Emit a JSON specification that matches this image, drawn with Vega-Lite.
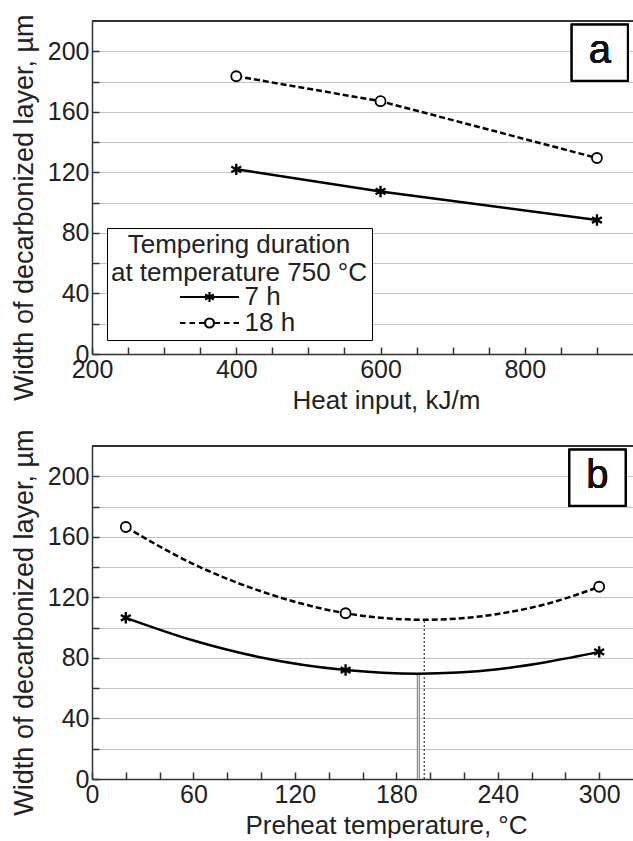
{
  "$schema": "https://vega.github.io/schema/vega-lite/v6.json",
  "background": "white",
  "padding": {"left": 9, "top": 13, "right": 0, "bottom": 0},
  "config": {
    "font": "Liberation Sans",
    "view": {"stroke": null},
    "axis": {
      "labelFont": "Liberation Sans",
      "titleFont": "Liberation Sans",
      "labelFontSize": 25,
      "titleFontSize": 26,
      "titleFontWeight": "normal",
      "labelColor": "#222",
      "titleColor": "#222",
      "domainColor": "#333",
      "domainWidth": 1.5,
      "tickColor": "#333",
      "tickWidth": 1.5,
      "tickSize": -7,
      "labelPadding": 10,
      "labelFlush": false,
      "labelOverlap": false,
      "gridColor": "#888",
      "gridDash": [1, 1],
      "gridWidth": 1
    },
    "axisY": {"titleFontSize": 27}
  },
  "datasets": {
    "a_points": [
      {"heat": 400, "width": 122, "series": "7 h"},
      {"heat": 600, "width": 107.4, "series": "7 h"},
      {"heat": 900, "width": 88.5, "series": "7 h"},
      {"heat": 400, "width": 183.5, "series": "18 h"},
      {"heat": 600, "width": 167, "series": "18 h"},
      {"heat": 900, "width": 129.5, "series": "18 h"}
    ],
    "b_points": [
      {"temp": 20, "width": 106.5, "series": "7 h"},
      {"temp": 150, "width": 72, "series": "7 h"},
      {"temp": 300, "width": 84, "series": "7 h"},
      {"temp": 20, "width": 166.5, "series": "18 h"},
      {"temp": 150, "width": 109.5, "series": "18 h"},
      {"temp": 300, "width": 127, "series": "18 h"}
    ],
    "b_curve": [
      {"temp": 20, "width": 106.5, "series": "7 h"},
      {"temp": 60, "width": 91.5, "series": "7 h"},
      {"temp": 100, "width": 80.3, "series": "7 h"},
      {"temp": 150, "width": 72, "series": "7 h"},
      {"temp": 193, "width": 69.6, "series": "7 h"},
      {"temp": 240, "width": 72.5, "series": "7 h"},
      {"temp": 270, "width": 77.5, "series": "7 h"},
      {"temp": 300, "width": 84, "series": "7 h"},
      {"temp": 20, "width": 166.5, "series": "18 h"},
      {"temp": 60, "width": 142, "series": "18 h"},
      {"temp": 100, "width": 124, "series": "18 h"},
      {"temp": 150, "width": 109.5, "series": "18 h"},
      {"temp": 196.5, "width": 105.2, "series": "18 h"},
      {"temp": 240, "width": 109, "series": "18 h"},
      {"temp": 270, "width": 116, "series": "18 h"},
      {"temp": 300, "width": 127, "series": "18 h"}
    ],
    "b_minima": [
      {"temp": 193, "width": 69.6, "series": "7 h"},
      {"temp": 196.5, "width": 105.2, "series": "18 h"}
    ]
  },
  "vconcat": [
    {
      "width": 541,
      "height": 333,
      "data": {"name": "a_points"},
      "encoding": {
        "x": {
          "field": "heat", "type": "quantitative", "title": "Heat input, kJ/m",
          "scale": {"domain": [200, 950], "nice": false, "zero": false},
          "axis": {
            "values": [200, 250, 300, 350, 400, 450, 500, 550, 600, 650, 700, 750, 800, 850, 900],
            "labelExpr": "datum.value % 200 == 0 ? datum.label : ''",
            "grid": false,
            "titleX": 294, "titleY": 54, "titleBaseline": "alphabetic", "titleAlign": "center", "titleAnchor": null
          }
        },
        "y": {
          "field": "width", "type": "quantitative", "title": "Width of decarbonized layer, µm",
          "scale": {"domain": [0, 220], "nice": false},
          "axis": {
            "values": [0, 20, 40, 60, 80, 100, 120, 140, 160, 180, 200],
            "labelExpr": "datum.value % 40 == 0 ? datum.label : ''",
            "grid": true,
            "titleX": -60, "titleY": 186, "titleBaseline": "alphabetic", "titleAlign": "center", "titleAngle": -90, "titleAnchor": null
          }
        }
      },
      "layer": [
        {
          "mark": {"type": "rule", "color": "#333", "strokeWidth": 1.5},
          "encoding": {"x": {"datum": 200}, "x2": {"datum": 950}, "y": {"datum": 220}}
        },
        {
          "transform": [{"filter": "datum.series == '7 h'"}],
          "mark": {"type": "line", "color": "black", "strokeWidth": 2.5}
        },
        {
          "transform": [{"filter": "datum.series == '18 h'"}],
          "mark": {"type": "line", "color": "black", "strokeWidth": 2.5, "strokeDash": [6, 3]}
        },
        {
          "transform": [{"filter": "datum.series == '7 h'"}],
          "mark": {"type": "point", "shape": "M0,-1L0,1M-0.87,-0.5L0.87,0.5M-0.87,0.5L0.87,-0.5", "size": 130, "filled": false, "color": "black", "strokeWidth": 2.4, "opacity": 1}
        },
        {
          "transform": [{"filter": "datum.series == '18 h'"}],
          "mark": {"type": "point", "shape": "circle", "size": 100, "filled": true, "fill": "white", "stroke": "black", "strokeWidth": 1.8, "opacity": 1}
        },
        {
          "mark": {"type": "point", "opacity": 0, "filled": false, "color": "black"},
          "encoding": {
            "shape": {
              "field": "series", "type": "nominal",
              "scale": {
                "domain": ["7 h", "18 h"],
                "range": [
                  "M-5,0L5,0M0,-0.85L0,0.85M-0.74,-0.42L0.74,0.42M-0.74,0.42L0.74,-0.42",
                  "M-5,0L-4.07,0M-3.39,0L-2.46,0M-1.78,0L-0.93,0M0.93,0L1.78,0M2.46,0L3.39,0M4.07,0L5,0M-0.76,0A0.76,0.76,0,1,1,0.76,0A0.76,0.76,0,1,1,-0.76,0Z"
                ]
              },
              "legend": {
                "orient": "none", "legendX": 15, "legendY": 207,
                "direction": "vertical",
                "title": ["Tempering duration", "at temperature 750 °C"],
                "titleFont": "Liberation Sans", "titleFontSize": 26, "titleFontWeight": "normal", "titleColor": "#222",
                "titleAnchor": "start", "titleAlign": "center", "titleLineHeight": 28, "titlePadding": -2, "titleLimit": 500,
                "labelFont": "Liberation Sans", "labelFontSize": 26, "labelColor": "#222", "labelLimit": 200,
                "symbolSize": 139, "symbolStrokeWidth": 2.2, "symbolStrokeColor": "black", "symbolFillColor": "white", "symbolOpacity": 1,
                "symbolOffset": -42.5, "labelOffset": 22,
                "strokeColor": "black", "fillColor": "white", "padding": 4, "rowPadding": 0, "cornerRadius": 0,
                "encode": {"legend": {"update": {"strokeWidth": {"value": 2}}}}
              }
            }
          }
        },
        {
          "mark": {"type": "point", "shape": "square", "size": 3136, "filled": true, "fill": "white", "stroke": "black", "strokeWidth": 2, "opacity": 1},
          "encoding": {"x": {"datum": 904}, "y": {"datum": 199}}
        },
        {
          "mark": {"type": "text", "text": "a", "font": "Liberation Sans", "fontSize": 40, "color": "#111", "baseline": "middle", "align": "center", "dy": -2},
          "encoding": {"x": {"datum": 904}, "y": {"datum": 199}}
        }
      ]
    },
    {
      "width": 541,
      "height": 333,
      "data": {"name": "b_points"},
      "encoding": {
        "x": {
          "field": "temp", "type": "quantitative", "title": "Preheat temperature, °C",
          "scale": {"domain": [0, 320], "nice": false},
          "axis": {
            "values": [0, 20, 40, 60, 80, 100, 120, 140, 160, 180, 200, 220, 240, 260, 280, 300],
            "labelExpr": "datum.value % 60 == 0 ? datum.label : ''",
            "grid": false,
            "titleX": 294, "titleY": 54, "titleBaseline": "alphabetic", "titleAlign": "center", "titleAnchor": null
          }
        },
        "y": {
          "field": "width", "type": "quantitative", "title": "Width of decarbonized layer, µm",
          "scale": {"domain": [0, 220], "nice": false},
          "axis": {
            "values": [0, 20, 40, 60, 80, 100, 120, 140, 160, 180, 200],
            "labelExpr": "datum.value % 40 == 0 ? datum.label : ''",
            "grid": true,
            "titleX": -60, "titleY": 176, "titleBaseline": "alphabetic", "titleAlign": "center", "titleAngle": -90, "titleAnchor": null
          }
        }
      },
      "layer": [
        {
          "mark": {"type": "rule", "color": "#333", "strokeWidth": 1.5},
          "encoding": {"x": {"datum": 0}, "x2": {"datum": 320}, "y": {"datum": 220}}
        },
        {
          "data": {"name": "b_minima"},
          "transform": [{"filter": "datum.series == '7 h'"}],
          "mark": {"type": "rule", "color": "#777", "strokeWidth": 3},
          "encoding": {"y": {"datum": 0}, "y2": {"field": "width"}}
        },
        {
          "data": {"name": "b_minima"},
          "transform": [{"filter": "datum.series == '7 h'"}],
          "mark": {"type": "rule", "color": "#eee", "strokeWidth": 1},
          "encoding": {"y": {"datum": 0}, "y2": {"field": "width"}}
        },
        {
          "data": {"name": "b_minima"},
          "transform": [{"filter": "datum.series == '18 h'"}],
          "mark": {"type": "rule", "color": "#111", "strokeWidth": 1, "strokeDash": [2, 2]},
          "encoding": {"y": {"datum": 0}, "y2": {"field": "width"}}
        },
        {
          "data": {"name": "b_curve"},
          "transform": [{"filter": "datum.series == '7 h'"}],
          "mark": {"type": "line", "color": "black", "strokeWidth": 2.5, "interpolate": "monotone"}
        },
        {
          "data": {"name": "b_curve"},
          "transform": [{"filter": "datum.series == '18 h'"}],
          "mark": {"type": "line", "color": "black", "strokeWidth": 2.5, "strokeDash": [6, 3], "interpolate": "monotone"}
        },
        {
          "transform": [{"filter": "datum.series == '7 h'"}],
          "mark": {"type": "point", "shape": "M0,-1L0,1M-0.87,-0.5L0.87,0.5M-0.87,0.5L0.87,-0.5", "size": 130, "filled": false, "color": "black", "strokeWidth": 2.4, "opacity": 1}
        },
        {
          "transform": [{"filter": "datum.series == '18 h'"}],
          "mark": {"type": "point", "shape": "circle", "size": 100, "filled": true, "fill": "white", "stroke": "black", "strokeWidth": 1.8, "opacity": 1}
        },
        {
          "mark": {"type": "point", "shape": "square", "size": 3136, "filled": true, "fill": "white", "stroke": "black", "strokeWidth": 2, "opacity": 1},
          "encoding": {"x": {"datum": 299}, "y": {"datum": 199}}
        },
        {
          "mark": {"type": "text", "text": "b", "font": "Liberation Sans", "fontSize": 40, "color": "#111", "baseline": "middle", "align": "center", "dy": -2},
          "encoding": {"x": {"datum": 299}, "y": {"datum": 199}}
        }
      ]
    }
  ],
  "spacing": 92,
  "bounds": "flush"
}
